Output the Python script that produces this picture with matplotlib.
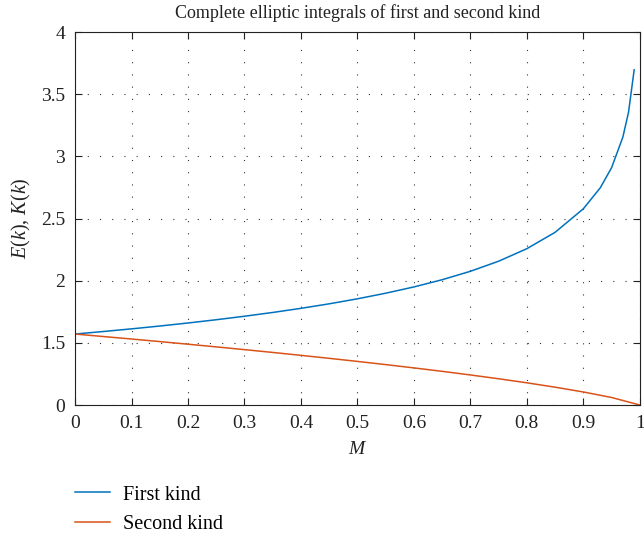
import numpy as np
import matplotlib.pyplot as plt

plt.rcParams["font.family"] = ["Liberation Serif", "DejaVu Serif"]
plt.rcParams["mathtext.fontset"] = "custom"
plt.rcParams["mathtext.rm"] = "Liberation Serif"
plt.rcParams["mathtext.it"] = "Liberation Serif:italic"

# Complete elliptic integrals K(m) and E(m)
m_first = [0.0, 0.05, 0.1, 0.15, 0.2, 0.25, 0.3, 0.35, 0.4, 0.45, 0.5, 0.55,
           0.6, 0.65, 0.7, 0.75, 0.8, 0.85, 0.9, 0.93, 0.95, 0.97, 0.98, 0.99]
k_first = [1.5708, 1.5910, 1.6124, 1.6352, 1.6596, 1.6858, 1.7139, 1.7443,
           1.7775, 1.8138, 1.8541, 1.8991, 1.9496, 2.0076, 2.0754, 2.1565,
           2.2572, 2.3890, 2.5781, 2.7470, 2.9083, 3.1550, 3.3540, 3.6956]

m_second = [0.0, 0.05, 0.1, 0.15, 0.2, 0.25, 0.3, 0.35, 0.4, 0.45, 0.5, 0.55,
            0.6, 0.65, 0.7, 0.75, 0.8, 0.85, 0.9, 0.95, 1.0]
e_second = [1.5708, 1.5507, 1.5308, 1.5101, 1.4890, 1.4675, 1.4454, 1.4228,
            1.3994, 1.3754, 1.3506, 1.3250, 1.2984, 1.2708, 1.2417, 1.2111,
            1.1785, 1.1434, 1.1048, 1.0605, 1.0000]

x_ticks = [0, 0.1, 0.2, 0.3, 0.4, 0.5, 0.6, 0.7, 0.8, 0.9, 1]
x_labels = ["0", "0.1", "0.2", "0.3", "0.4", "0.5", "0.6", "0.7", "0.8", "0.9", "1"]
y_ticks = [1.0, 1.5, 2.0, 2.5, 3.0, 3.5, 4.0]
y_labels = ["0", "1.5", "2", "2.5", "3", "3.5", "4"]

fig = plt.figure(figsize=(6.44, 5.37), dpi=100)
ax = fig.add_axes([0.1165, 0.2458, 0.877, 0.6946])

l1, = ax.plot(m_first, k_first, color="#0072BD", lw=1.1, label="First kind")
l2, = ax.plot(m_second, e_second, color="#D95319", lw=1.1, label="Second kind")

ax.set_xlim(0, 1)
ax.set_ylim(1, 4)
ax.set_xticks(x_ticks)
ax.set_xticklabels(x_labels)
ax.set_yticks(y_ticks)
ax.set_yticklabels(y_labels)
ax.tick_params(direction="in", length=5, width=0.8, top=True, right=True,
               labelsize=14, colors="#222222", pad=7)
for s in ax.spines.values():
    s.set_linewidth(0.8)
    s.set_color("#222222")
ax.grid(True, color="#333333", lw=0.8, linestyle=(0, (1, 10)))

ax.set_title("Complete elliptic integrals of first and second kind",
             fontsize=13, pad=10, color="#222222")
ax.set_xlabel("$M$", fontsize=14, labelpad=7, color="#222222")
ax.set_ylabel("$E(k)$, $K(k)$", fontsize=14.5, labelpad=6, color="#222222")

fig.legend(handles=[l1, l2], loc="upper left", bbox_to_anchor=(0.116, 0.096),
           frameon=False, fontsize=14.5, handlelength=1.75, handletextpad=0.65,
           labelspacing=0.5, borderpad=0, borderaxespad=0)

fig.savefig("out.png", dpi=100)
